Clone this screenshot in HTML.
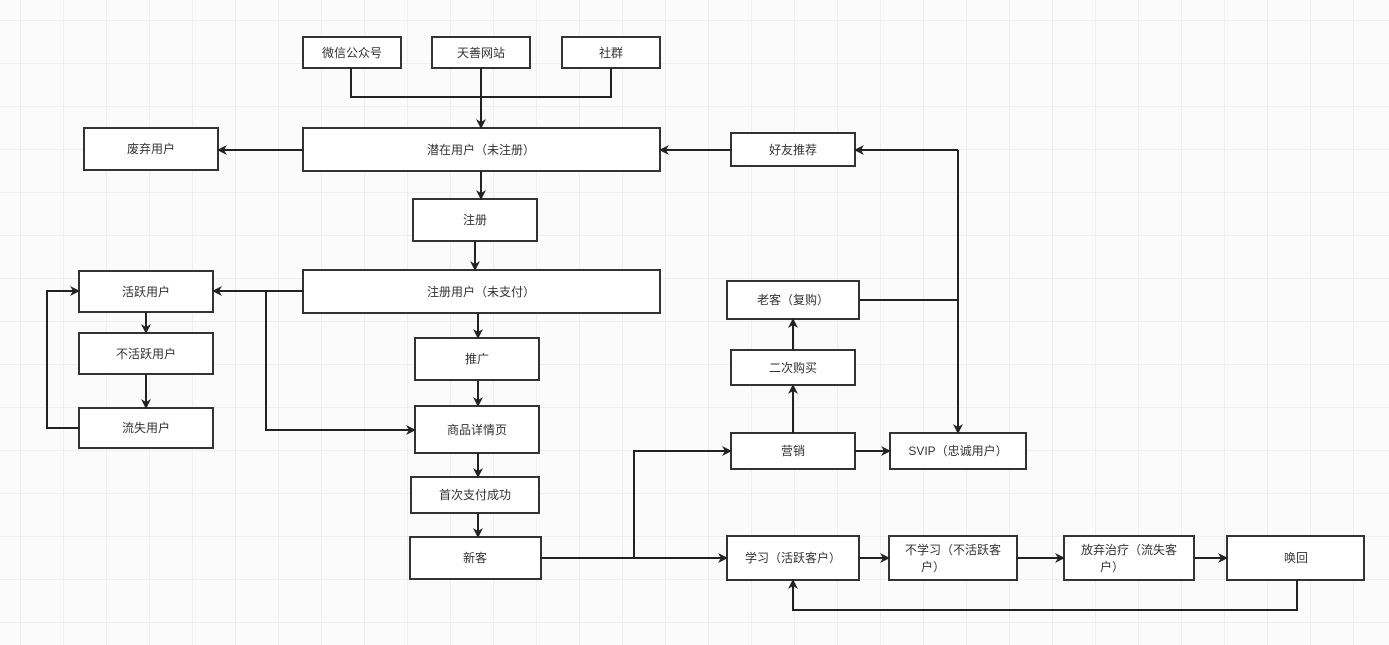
<!DOCTYPE html>
<html><head><meta charset="utf-8"><style>
html,body{margin:0;padding:0;background:#fafafa;}
svg{display:block;}
text{font-family:"Liberation Sans","Noto Sans CJK SC",sans-serif;font-size:12px;fill:#333;text-anchor:middle;dominant-baseline:central;}
</style></head><body>
<svg width="1389" height="645" viewBox="0 0 1389 645" xmlns="http://www.w3.org/2000/svg">
<defs>
<pattern id="g" width="43" height="43" patternUnits="userSpaceOnUse" x="20" y="20">
<path d="M0 0H43M0 0V43" stroke="#e6e6e6" stroke-width="1" fill="none"/>
</pattern>
<marker id="a" markerWidth="10" markerHeight="10" refX="9" refY="5" orient="auto" markerUnits="userSpaceOnUse">
<path d="M0,0 L10,5 L0,10 L3,5 Z" fill="#222"/>
</marker>
</defs>
<rect width="1389" height="645" fill="#fbfbfb"/>
<rect width="1389" height="645" fill="url(#g)"/>
<g fill="#fff" stroke="#333" stroke-width="2">
<rect x="303" y="37" width="98" height="31"/>
<rect x="432" y="37" width="98" height="31"/>
<rect x="562" y="37" width="98" height="31"/>
<rect x="303" y="128" width="357" height="43"/>
<rect x="84" y="128" width="134" height="42"/>
<rect x="731" y="133" width="124" height="33"/>
<rect x="413" y="199" width="124" height="42"/>
<rect x="303" y="270" width="357" height="43"/>
<rect x="79" y="271" width="134" height="41"/>
<rect x="79" y="333" width="134" height="41"/>
<rect x="79" y="408" width="134" height="40"/>
<rect x="415" y="338" width="124" height="42"/>
<rect x="415" y="406" width="124" height="47"/>
<rect x="411" y="477" width="128" height="36"/>
<rect x="410" y="537" width="131" height="42"/>
<rect x="727" y="281" width="132" height="38"/>
<rect x="731" y="350" width="124" height="35"/>
<rect x="731" y="433" width="124" height="36"/>
<rect x="890" y="433" width="136" height="36"/>
<rect x="727" y="536" width="132" height="44"/>
<rect x="889" y="536" width="128" height="44"/>
<rect x="1064" y="536" width="130" height="44"/>
<rect x="1227" y="536" width="137" height="44"/>
</g>
<g fill="none" stroke="#222" stroke-width="2">
<path d="M351 68V97H611V68"/>
<path d="M481 68V128" marker-end="url(#a)"/>
<path d="M303 150H218" marker-end="url(#a)"/>
<path d="M731 150H660" marker-end="url(#a)"/>
<path d="M958 150H855" marker-end="url(#a)"/>
<path d="M958 150V433" marker-end="url(#a)"/>
<path d="M859 300H958"/>
<path d="M481 171V199" marker-end="url(#a)"/>
<path d="M475 241V270" marker-end="url(#a)"/>
<path d="M303 291H213" marker-end="url(#a)"/>
<path d="M266 291V430H415" marker-end="url(#a)"/>
<path d="M478 313V338" marker-end="url(#a)"/>
<path d="M146 312V333" marker-end="url(#a)"/>
<path d="M146 374V408" marker-end="url(#a)"/>
<path d="M79 428H47V291H79" marker-end="url(#a)"/>
<path d="M478 380V406" marker-end="url(#a)"/>
<path d="M478 453V477" marker-end="url(#a)"/>
<path d="M478 513V537" marker-end="url(#a)"/>
<path d="M541 558H727" marker-end="url(#a)"/>
<path d="M634 558V451H731" marker-end="url(#a)"/>
<path d="M855 451H890" marker-end="url(#a)"/>
<path d="M793 433V385" marker-end="url(#a)"/>
<path d="M793 350V319" marker-end="url(#a)"/>
<path d="M859 558H889" marker-end="url(#a)"/>
<path d="M1017 558H1064" marker-end="url(#a)"/>
<path d="M1194 558H1227" marker-end="url(#a)"/>
<path d="M1297 580V610H793V580" marker-end="url(#a)"/>
</g>
<text x="352" y="53">微信公众号</text>
<text x="481" y="53">天善网站</text>
<text x="611" y="53">社群</text>
<text x="481" y="150">潜在用户（未注册）</text>
<text x="151" y="149">废弃用户</text>
<text x="793" y="150">好友推荐</text>
<text x="475" y="220">注册</text>
<text x="481" y="292">注册用户（未支付）</text>
<text x="146" y="292">活跃用户</text>
<text x="146" y="354">不活跃用户</text>
<text x="146" y="428">流失用户</text>
<text x="477" y="359">推广</text>
<text x="477" y="430">商品详情页</text>
<text x="475" y="495">首次支付成功</text>
<text x="475" y="558">新客</text>
<text x="793" y="300">老客（复购）</text>
<text x="793" y="368">二次购买</text>
<text x="793" y="451">营销</text>
<text x="958" y="451">SVIP（忠诚用户）</text>
<text x="793" y="558">学习（活跃客户）</text>
<text x="953" y="550">不学习（不活跃客</text>
<text x="933" y="567">户）</text>
<text x="1129" y="550">放弃治疗（流失客</text>
<text x="1112" y="567">户）</text>
<text x="1296" y="558">唤回</text>
</svg>
</body></html>
